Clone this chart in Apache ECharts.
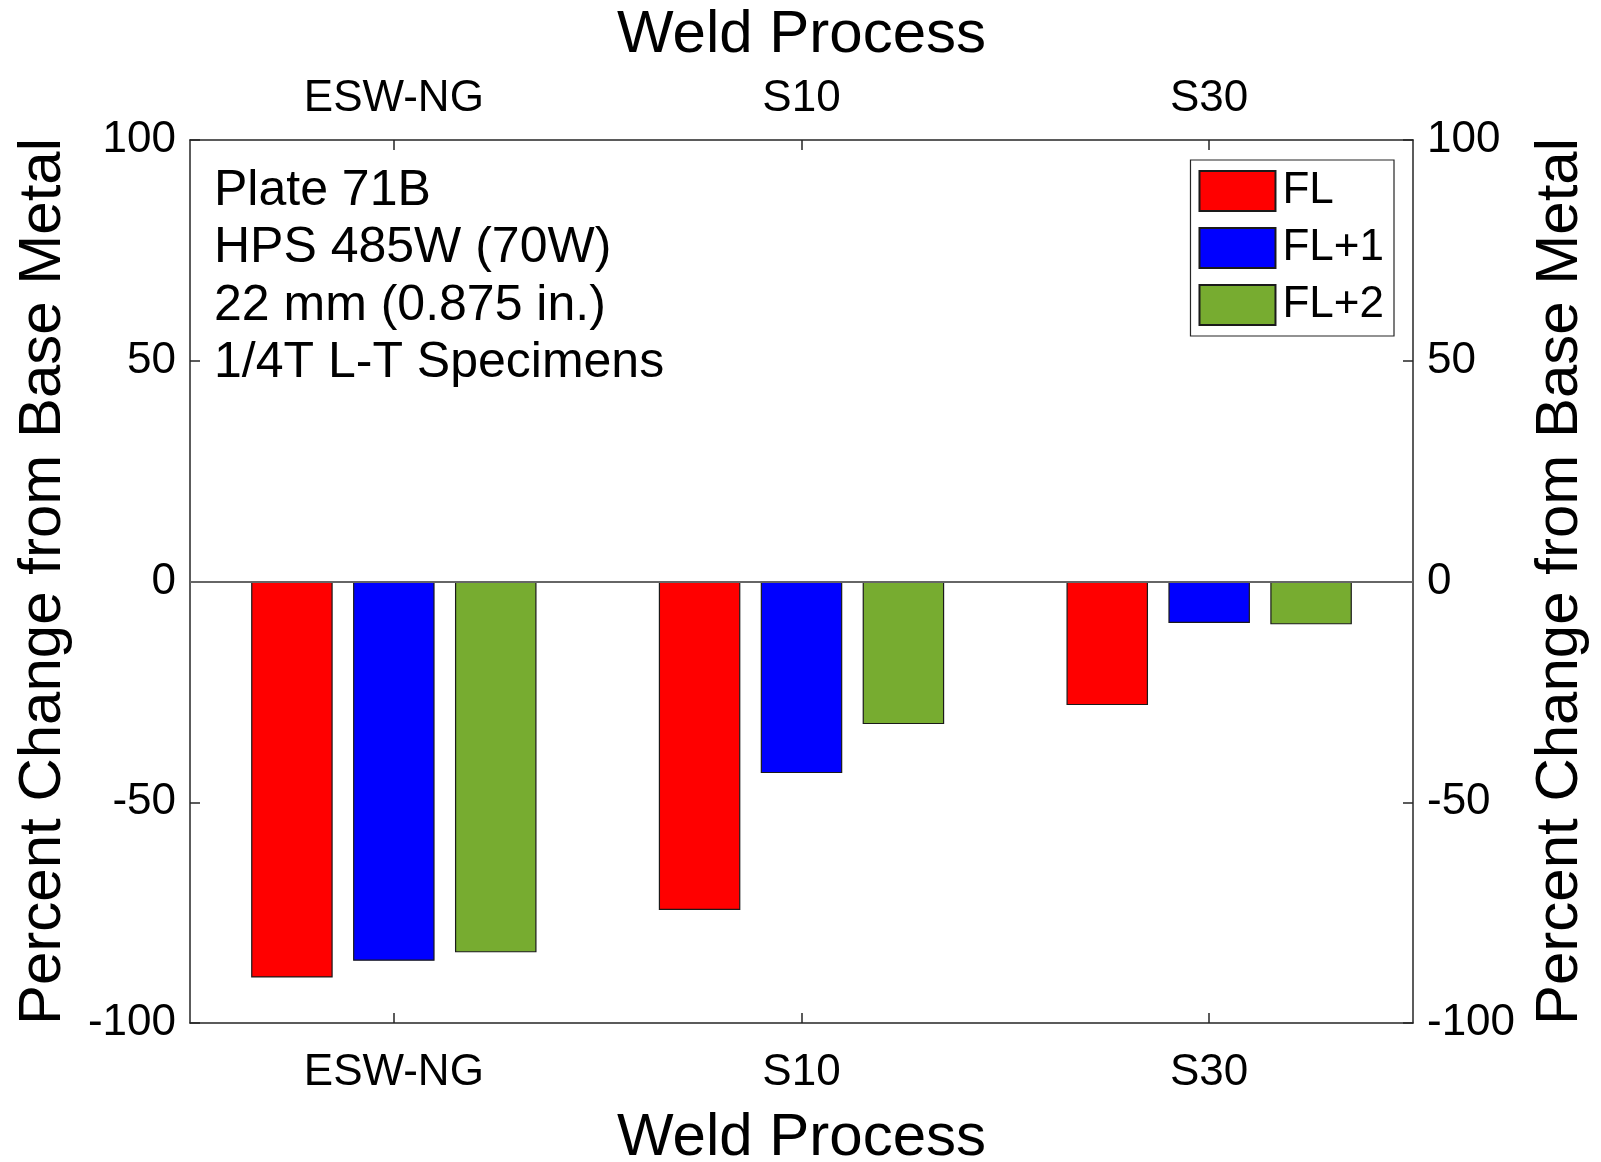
<!DOCTYPE html>
<html>
<head>
<meta charset="utf-8">
<script src="https://cdn.jsdelivr.net/npm/echarts@6/dist/echarts.min.js"></script>
<style>
  html, body { margin: 0; padding: 0; background: #fff; }
  #chart { width: 1601px; height: 1162px; }
</style>
</head>
<body>
<div id="chart"></div>
<script>
// Weld processes on the category axis
const processes = ['ESW-NG', 'S10', 'S30'];

// Percent change from base metal for each location
const flValues   = [-89.7, -74.4, -28.0];
const fl1Values  = [-85.9, -43.4, -9.4];
const fl2Values  = [-84.0, -32.3, -9.7];

const seriesNames = ['FL', 'FL+1', 'FL+2'];
const seriesColors = ['#ff0000', '#0000ff', '#77ac30'];

const yTicks = { min: -100, max: 100, interval: 50 };

const noteLines = ['Plate 71B', 'HPS 485W (70W)', '22 mm (0.875 in.)', '1/4T L-T Specimens'];

const FONT = '"Liberation Sans", Arial, Helvetica, sans-serif';
const AXIS_COLOR = '#262626';

const chart = echarts.init(document.getElementById('chart'), null, { renderer: 'canvas' });

function categoryAxis(position) {
  const bottom = position === 'bottom';
  return {
    type: 'category',
    data: processes,
    position: position,
    boundaryGap: true,
    name: 'Weld Process',
    nameLocation: 'middle',
    nameGap: bottom ? 85 : 75,
    nameTextStyle: { fontFamily: FONT, fontSize: 60, color: '#000' },
    axisLine: { show: true, onZero: false, lineStyle: { color: AXIS_COLOR, width: 1.5 } },
    axisTick: { show: true, inside: true, alignWithLabel: true, length: 10, lineStyle: { color: AXIS_COLOR, width: 1.5 } },
    axisLabel: { fontFamily: FONT, fontSize: 44, color: '#000', margin: bottom ? 28 : 19 },
    splitLine: { show: false }
  };
}

function valueAxis(position) {
  return {
    type: 'value',
    position: position,
    min: yTicks.min,
    max: yTicks.max,
    interval: yTicks.interval,
    name: 'Percent Change from Base Metal',
    nameLocation: 'middle',
    nameGap: 117,
    nameTextStyle: { fontFamily: FONT, fontSize: 60, color: '#000' },
    axisLine: { show: true, onZero: false, lineStyle: { color: AXIS_COLOR, width: 1.5 } },
    axisTick: { show: true, inside: true, length: 10, lineStyle: { color: AXIS_COLOR, width: 1.5 } },
    axisLabel: { fontFamily: FONT, fontSize: 44, color: '#000', margin: 14 },
    splitLine: { show: false }
  };
}

function barSeries(name, values, color, withBaseline) {
  const s = {
    name: name,
    type: 'bar',
    xAxisIndex: 0,
    yAxisIndex: 0,
    data: values,
    barWidth: '20%',
    barGap: '25%',
    itemStyle: { color: color, borderColor: '#1a1a1a', borderWidth: 1.2 },
    emphasis: { disabled: true },
    animation: false
  };
  if (withBaseline) {
    s.markLine = {
      silent: true,
      symbol: ['none', 'none'],
      label: { show: false },
      lineStyle: { color: '#666', width: 2, type: 'solid' },
      data: [{ yAxis: 0 }],
      animation: false
    };
  }
  return s;
}

const option = {
  backgroundColor: '#fff',
  animation: false,
  grid: { left: 190, right: 188, top: 140, bottom: 139, containLabel: false, outerBoundsMode: 'none' },
  xAxis: [categoryAxis('bottom'), categoryAxis('top')],
  yAxis: [valueAxis('left'), valueAxis('right')],
  legend: {
    data: seriesNames,
    orient: 'vertical',
    right: 207,
    top: 160,
    itemWidth: 76,
    itemHeight: 40,
    itemGap: 13,
    padding: [9, 10, 9, 8],
    borderColor: '#262626',
    borderWidth: 1.2,
    backgroundColor: '#fff',
    icon: 'rect',
    selectedMode: false,
    textStyle: { fontFamily: FONT, fontSize: 44, color: '#000', padding: [0, 0, 0, 2] }
  },
  graphic: [{
    type: 'text',
    left: 214,
    top: 162,
    silent: true,
    style: {
      text: noteLines.join('\n'),
      font: '50px ' + FONT,
      lineHeight: 57.5,
      fill: '#000'
    }
  }],
  series: [
    barSeries(seriesNames[0], flValues, seriesColors[0], true),
    barSeries(seriesNames[1], fl1Values, seriesColors[1], false),
    barSeries(seriesNames[2], fl2Values, seriesColors[2], false)
  ]
};

chart.setOption(option);
</script>
</body>
</html>
